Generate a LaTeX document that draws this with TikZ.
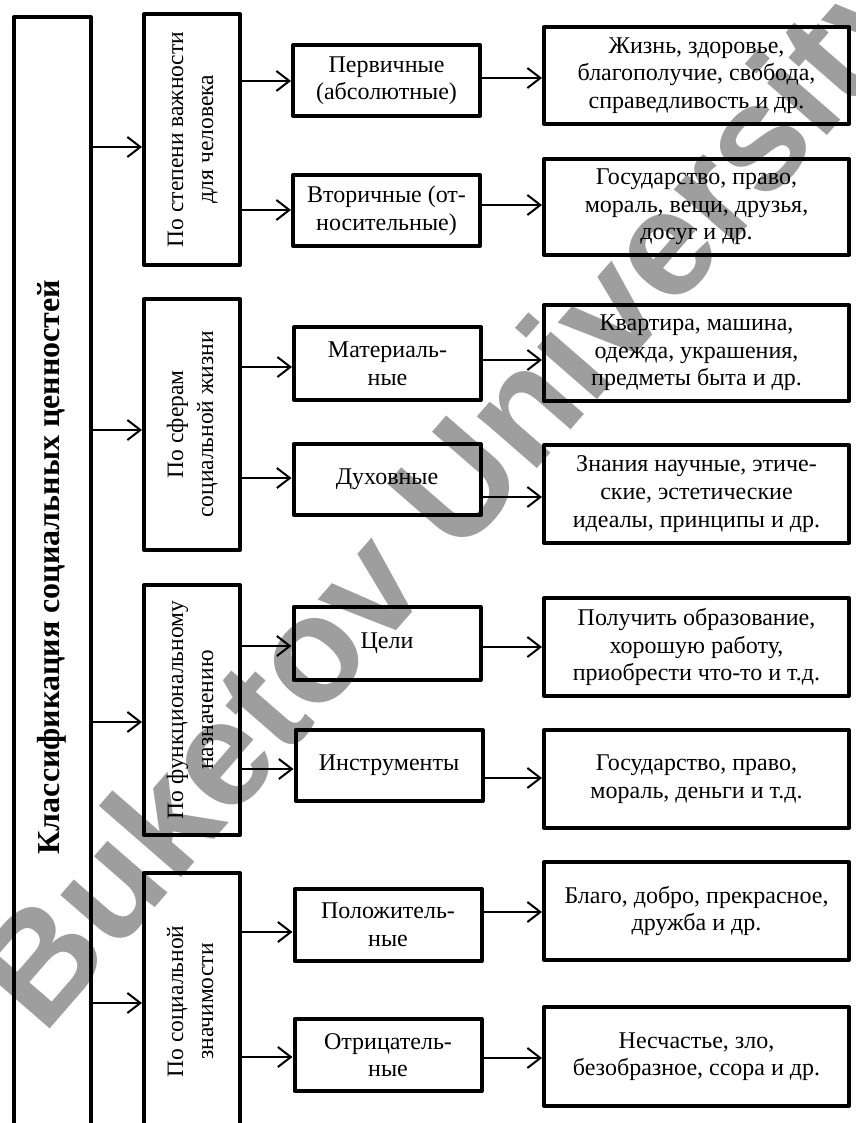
\documentclass[tikz,border=0pt]{standalone}
\usepackage{fontspec}
\usepackage{graphicx}
\setmainfont{Liberation Serif}
\newfontfamily\wmfont{Liberation Sans}
\usetikzlibrary{arrows.meta}
\newcommand{\rottext}[1]{\rotatebox{90}{\fontsize{23.5}{30}\selectfont\begin{tabular}{@{}c@{}}#1\end{tabular}}}
\begin{document}
\begin{tikzpicture}[x=1pt,y=-1pt,
  box/.style={draw, line width=4pt, line join=round, inner sep=0pt, align=center,
    font=\fontsize{24}{27.6}\selectfont},
  lone/.style={box, minimum width=96pt},
  ltwo/.style={box, minimum width=187pt},
  lthree/.style={box, minimum width=305pt},
  arr/.style={line width=2pt, -{Straight Barb[length=13pt,width=20pt]}},
  wm/.style={text=black!38, font=\wmfont\bfseries\fontsize{150}{160}\selectfont, rotate=49},
  ttl/.style={font=\bfseries\fontsize{32}{36}\selectfont, rotate=90}
]
\useasboundingbox (0,0) rectangle (855,1123);
\clip (0,0) rectangle (855,1123);
\fill[white] (0,0) rectangle (855,1123);
\node[wm] (wmark) at (460,498) {Buketov University};

% main box
\node[box, minimum width=77pt, minimum height=1123pt] (main) at (52.5,578.5) {};
\node[ttl] (title) at (52,567) {Классификация социальных ценностей};

% level 1
\node[lone, minimum height=251pt] (A) at (192,139.5) {\rottext{По степени важности\\для человека}};
\node[lone, minimum height=251pt] (B) at (192,424.5) {\rottext{По сферам\\социальной жизни}};
\node[lone, minimum height=250pt] (C) at (192,710) {\rottext{По функциональному\\назначению}};
\node[lone, minimum height=257pt] (D) at (192,1001.5) {\rottext{По социальной\\значимости}};

% level 2
\node[ltwo, minimum height=71pt] (P1) at (386.5,80.5) {Первичные\\(абсолютные)};
\node[ltwo, minimum height=71pt] (P2) at (386.5,210.5) {Вторичные (от-\\носительные)};
\node[ltwo, minimum height=73pt] (S1) at (387.5,363.5) {Материаль-\\ные};
\node[ltwo, minimum height=71pt] (S2) at (387,479.5) {Духовные};
\node[ltwo, minimum height=73pt] (F1) at (387,643.5) {Цели};
\node[ltwo, minimum height=71pt] (F2) at (389,765.5) {Инструменты};
\node[ltwo, minimum height=72pt] (Z1) at (388,925) {Положитель-\\ные};
\node[ltwo, minimum height=72pt] (Z2) at (388,1055) {Отрицатель-\\ные};

% level 3
\node[lthree, minimum height=97pt] (E1) at (696.5,75.5) {Жизнь, здоровье,\\благополучие, свобода,\\справедливость и др.};
\node[lthree, minimum height=96pt] (E2) at (696.5,207) {Государство, право,\\мораль, вещи, друзья,\\досуг и др.};
\node[lthree, minimum height=96pt] (E3) at (696.5,353) {Квартира, машина,\\одежда, украшения,\\предметы быта и др.};
\node[lthree, minimum height=98pt] (E4) at (696.5,494) {Знания научные, этиче-\\ские, эстетические\\идеалы, принципы и др.};
\node[lthree, minimum height=98pt] (E5) at (696.5,647) {Получить образование,\\хорошую работу,\\приобрести что-то и т.д.};
\node[lthree, minimum height=98pt] (E6) at (696.5,779) {Государство, право,\\мораль, деньги и т.д.};
\node[lthree, minimum height=98pt] (E7) at (696.5,911) {Благо, добро, прекрасное,\\дружба и др.};
\node[lthree, minimum height=99pt] (E8) at (696.5,1056.5) {Несчастье, зло,\\безобразное, ссора и др.};

% y levels
\coordinate (mA) at (0,147);
\coordinate (mB) at (0,430);
\coordinate (mC) at (0,722);
\coordinate (mD) at (0,1003);
\coordinate (a1) at (0,81);
\coordinate (a2) at (0,210);
\coordinate (a3) at (0,367);
\coordinate (a4) at (0,478);
\coordinate (a5) at (0,646);
\coordinate (a6) at (0,769);
\coordinate (a7) at (0,932);
\coordinate (a8) at (0,1057);
\coordinate (b1) at (0,78);
\coordinate (b2) at (0,205);
\coordinate (b3) at (0,360);
\coordinate (b4) at (0,497);
\coordinate (b5) at (0,647);
\coordinate (b6) at (0,778);
\coordinate (b7) at (0,912);
\coordinate (b8) at (0,1058);

% connectors main -> level 1
\draw[arr] (main.east |- mA) -- (A.west |- mA);
\draw[arr] (main.east |- mB) -- (B.west |- mB);
\draw[arr] (main.east |- mC) -- (C.west |- mC);
\draw[arr] (main.east |- mD) -- (D.west |- mD);

% level 1 -> level 2
\draw[arr] (A.east |- a1) -- (P1.west |- a1);
\draw[arr] (A.east |- a2) -- (P2.west |- a2);
\draw[arr] (B.east |- a3) -- (S1.west |- a3);
\draw[arr] (B.east |- a4) -- (S2.west |- a4);
\draw[arr] (C.east |- a5) -- (F1.west |- a5);
\draw[arr] (C.east |- a6) -- (F2.west |- a6);
\draw[arr] (D.east |- a7) -- (Z1.west |- a7);
\draw[arr] (D.east |- a8) -- (Z2.west |- a8);

% level 2 -> level 3
\draw[arr] (P1.east |- b1) -- (E1.west |- b1);
\draw[arr] (P2.east |- b2) -- (E2.west |- b2);
\draw[arr] (S1.east |- b3) -- (E3.west |- b3);
\draw[arr] (S2.east |- b4) -- (E4.west |- b4);
\draw[arr] (F1.east |- b5) -- (E5.west |- b5);
\draw[arr] (F2.east |- b6) -- (E6.west |- b6);
\draw[arr] (Z1.east |- b7) -- (E7.west |- b7);
\draw[arr] (Z2.east |- b8) -- (E8.west |- b8);
\end{tikzpicture}
\end{document}
